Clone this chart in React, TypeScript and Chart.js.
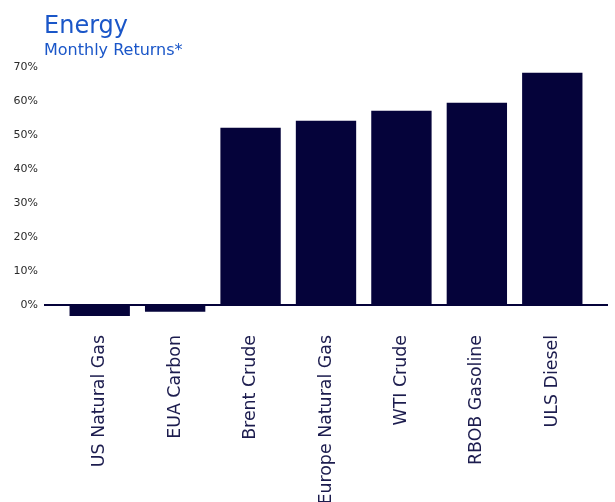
import React, { useEffect, useRef } from "react";
import { Chart, registerables } from "chart.js";

Chart.register(...registerables);

const categories = [
  "US Natural Gas",
  "EUA Carbon",
  "Brent Crude",
  "Europe Natural Gas",
  "WTI Crude",
  "RBOB Gasoline",
  "ULS Diesel",
];
const monthlyReturns = [-3.2, -2.0, 52.1, 54.2, 57.1, 59.5, 68.3];
const yTicks = [0, 10, 20, 30, 40, 50, 60, 70];

const TITLE = "Energy";
const SUBTITLE = "Monthly Returns*";
const NAVY = "#05033a";
const FONT = "'DejaVu Sans', sans-serif";

// Title, subtitle and the baseline at zero that runs past the bars
const decorations = {
  id: "decorations",
  afterDraw(chart: any) {
    const { ctx, chartArea, scales } = chart;
    ctx.save();
    ctx.fillStyle = "#1a56c8";
    ctx.textBaseline = "alphabetic";
    ctx.textAlign = "left";
    ctx.font = `24px ${FONT}`;
    ctx.fillText(TITLE, 44, 33);
    ctx.font = `16px ${FONT}`;
    ctx.fillText(SUBTITLE, 44, 55);

    const y0 = Math.round(scales.y.getPixelForValue(0));
    ctx.strokeStyle = NAVY;
    ctx.lineWidth = 2;
    ctx.beginPath();
    ctx.moveTo(chartArea.left - 18, y0);
    ctx.lineTo(chartArea.right + 18, y0);
    ctx.stroke();
    ctx.restore();
  },
};

export default function App() {
  const canvasRef = useRef<HTMLCanvasElement | null>(null);

  useEffect(() => {
    document.body.style.margin = "0";
    const canvas = canvasRef.current;
    if (!canvas) return;
    const chart = new Chart(canvas, {
      type: "bar",
      data: {
        labels: categories,
        datasets: [
          {
            data: monthlyReturns,
            backgroundColor: NAVY,
            borderWidth: 0,
            categoryPercentage: 0.8,
            barPercentage: 1.0,
          },
        ],
      },
      plugins: [decorations],
      options: {
        responsive: false,
        animation: false,
        devicePixelRatio: 1,
        layout: { padding: { left: 13, right: 25, top: 67, bottom: 0 } },
        plugins: {
          legend: { display: false },
          tooltip: { enabled: false },
          title: { display: false },
        },
        scales: {
          x: {
            grid: { display: false, drawTicks: false },
            border: { display: false },
            ticks: {
              color: "#1c1c4e",
              font: { family: FONT, size: 17.4 },
              maxRotation: 90,
              minRotation: 90,
              padding: 13,
            },
            afterFit: (scale: any) => {
              scale.height = 180;
              scale.paddingLeft = 0;
              scale.paddingRight = 0;
            },
          },
          y: {
            min: -5,
            max: 70,
            grid: { display: false, drawTicks: false },
            border: { display: false },
            afterBuildTicks: (scale: any) => {
              scale.ticks = yTicks.map((v) => ({ value: v }));
            },
            afterFit: (scale: any) => {
              scale.width = 49;
            },
            ticks: {
              color: "#2a2a2a",
              font: { family: FONT, size: 11 },
              padding: 24,
              callback: (v: any) => `${v}%`,
            },
          },
        },
      },
    });
    return () => chart.destroy();
  }, []);

  return (
    <div style={{ width: 615, height: 502, overflow: "hidden", background: "#fff" }}>
      <canvas ref={canvasRef} width={615} height={502} />
    </div>
  );
}
